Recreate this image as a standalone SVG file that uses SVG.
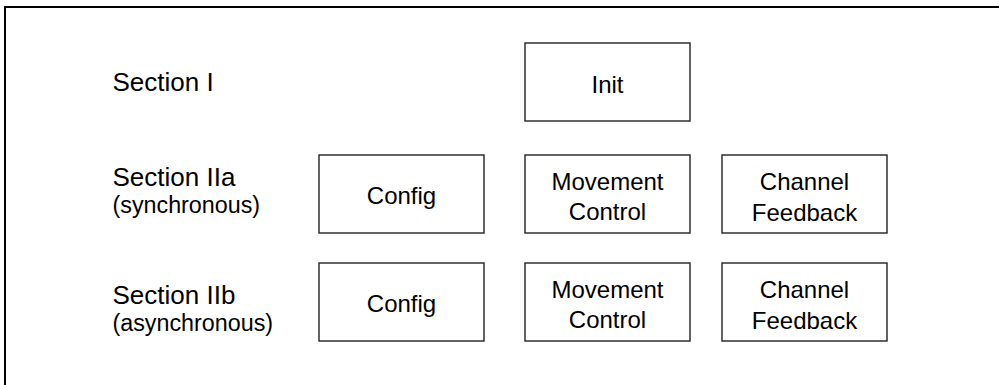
<svg xmlns="http://www.w3.org/2000/svg" width="999" height="385" viewBox="0 0 999 385">
<style>
.frame{fill:none;stroke:#000;stroke-width:2}
.box{fill:#fff;stroke:#222;stroke-width:1.4}
.t{font-family:"Liberation Sans",Arial,sans-serif;font-size:24px;fill:#000}
.c{text-anchor:middle}
.s{font-family:"Liberation Sans",Arial,sans-serif;font-size:26px;fill:#000}
.p{font-family:"Liberation Sans",Arial,sans-serif;font-size:23.3px;fill:#000}
</style>
<rect width="999" height="385" fill="#fff"/>
<path class="frame" d="M5,390 L5,7 L1010,7"/>
<g id="labels">
<text class="s" x="112.5" y="90.5">Section I</text>
<text class="s" x="112.5" y="186">Section IIa</text>
<text class="p" x="112.5" y="212.5">(synchronous)</text>
<text class="s" x="112.5" y="304">Section IIb</text>
<text class="p" x="112.5" y="331">(asynchronous)</text>
</g>
<g id="init"><rect class="box" x="525" y="43" width="165" height="78"/><text class="t c" x="607.5" y="92.5">Init</text></g>
<g id="config-a"><rect class="box" x="319" y="155" width="165" height="78"/><text class="t c" x="401.5" y="204">Config</text></g>
<g id="movement-a"><rect class="box" x="525" y="155" width="165" height="78"/><text class="t c" x="607.5" y="190">Movement</text><text class="t c" x="607.5" y="220">Control</text></g>
<g id="channel-a"><rect class="box" x="722" y="155" width="165" height="78"/><text class="t c" x="804.5" y="190">Channel</text><text class="t c" x="804.5" y="221">Feedback</text></g>
<g id="config-b"><rect class="box" x="319" y="263" width="165" height="78"/><text class="t c" x="401.5" y="312">Config</text></g>
<g id="movement-b"><rect class="box" x="525" y="263" width="165" height="78"/><text class="t c" x="607.5" y="297.5">Movement</text><text class="t c" x="607.5" y="327.5">Control</text></g>
<g id="channel-b"><rect class="box" x="722" y="263" width="165" height="78"/><text class="t c" x="804.5" y="297.5">Channel</text><text class="t c" x="804.5" y="328.5">Feedback</text></g>
<g id="connectors"></g>
</svg>
